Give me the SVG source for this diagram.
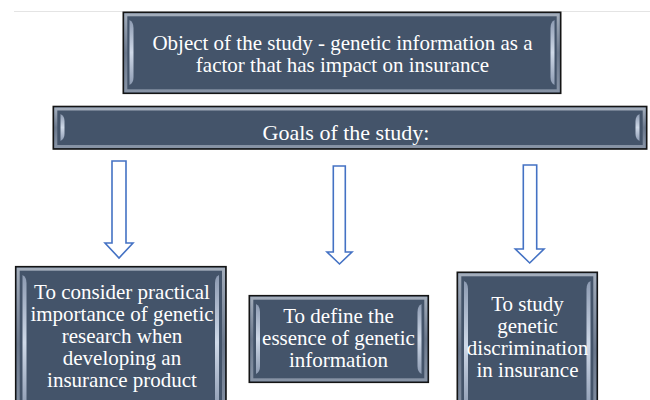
<svg xmlns="http://www.w3.org/2000/svg" width="650" height="400" viewBox="0 0 650 400">
  <style>
    .frame { fill: #44546A; stroke: #141414; stroke-width: 1.6; }
    .band { fill: none; stroke: url(#bandGrad); stroke-width: 3; }
    .hl { fill: url(#hlGrad); }
    .txt { font-family: "Liberation Serif", "Times New Roman", serif; font-size: 21px; fill: #ffffff; text-anchor: middle; }
    .arrow { fill: #ffffff; stroke: #4472C4; stroke-width: 1.6; stroke-linejoin: miter; }
    .rule { stroke: #e4e4e4; stroke-width: 1; }
  </style>
  <defs>
    <linearGradient id="bandGrad" x1="0" y1="0" x2="0" y2="1">
      <stop offset="0" stop-color="#a3adbb"/>
      <stop offset="0.5" stop-color="#6b788c"/>
      <stop offset="1" stop-color="#8793a5"/>
    </linearGradient>
    <linearGradient id="hlGrad" x1="0" y1="0" x2="0" y2="1">
      <stop offset="0" stop-color="#8d9bb2"/>
      <stop offset="0.5" stop-color="#cfd9e8"/>
      <stop offset="1" stop-color="#8d9bb2"/>
    </linearGradient>
  </defs>
  <rect width="650" height="400" fill="#ffffff"/>
  <line class="rule" x1="14" y1="11.5" x2="650" y2="11.5"/>

  <g id="connectors">
    <polygon id="arrow-left" class="arrow" points="112,161 126,161 126,243 133,243 119,258 105,243 112,243"/>
    <polygon id="arrow-middle" class="arrow" points="333.3,166 345.3,166 345.3,252 352,252 339.5,264 327,252 333.3,252"/>
    <polygon id="arrow-right" class="arrow" points="523.3,165 536.7,165 536.7,249 544,249 529.7,263 515.3,249 523.3,249"/>
  </g>

  <g id="object">
    <rect class="frame" x="123.3" y="12.3" width="437.4" height="81"/>
    <rect class="band" x="125.8" y="14.8" width="432.4" height="76"/>
    <path class="hl" d="M129.5,20 Q133.5,22 133.5,28 L133.5,77 Q133.5,83 129.5,85 Z"/>
    <path class="hl" d="M554.5,20 Q550.5,22 550.5,28 L550.5,77 Q550.5,83 554.5,85 Z"/>
    <text class="txt" x="342.5" y="50">Object of the study - genetic information as a</text>
    <text class="txt" x="342.5" y="72">factor that has impact on insurance</text>
  </g>

  <g id="goals">
    <rect class="frame" x="53.3" y="106.5" width="593.4" height="42.5"/>
    <rect class="band" x="55.8" y="109" width="588.4" height="37.5"/>
    <path class="hl" d="M60.5,114 Q64.5,116 64.5,121 L64.5,134 Q64.5,139 60.5,141 Z"/>
    <path class="hl" d="M639.5,114 Q635.5,116 635.5,121 L635.5,134 Q635.5,139 639.5,141 Z"/>
    <text class="txt" x="346" y="139.5" style="font-size:22px">Goals of the study:</text>
  </g>

  <g id="goal-practical">
    <rect class="frame" x="15.7" y="266.7" width="210.3" height="150"/>
    <rect class="band" x="18.2" y="269.2" width="205.3" height="150"/>
    <path class="hl" d="M22.5,275 Q26.5,277 26.5,283 L26.5,410 L22.5,410 Z"/>
    <path class="hl" d="M219,275 Q215,277 215,283 L215,410 L219,410 Z"/>
    <text class="txt" x="122" y="299">To consider practical</text>
    <text class="txt" x="122" y="321">importance of genetic</text>
    <text class="txt" x="122" y="343">research when</text>
    <text class="txt" x="122" y="365">developing an</text>
    <text class="txt" x="122" y="387">insurance product</text>
  </g>

  <g id="goal-essence">
    <rect class="frame" x="249.3" y="295.7" width="179" height="86.6"/>
    <rect class="band" x="251.8" y="298.2" width="174" height="81.6"/>
    <path class="hl" d="M256,304 Q260,306 260,312 L260,366 Q260,372 256,374 Z"/>
    <path class="hl" d="M421.5,304 Q417.5,306 417.5,312 L417.5,366 Q417.5,372 421.5,374 Z"/>
    <text class="txt" x="338.5" y="323">To define the</text>
    <text class="txt" x="338.5" y="345">essence of genetic</text>
    <text class="txt" x="338.5" y="367">information</text>
  </g>

  <g id="goal-discrimination">
    <rect class="frame" x="457.3" y="272.3" width="140" height="150"/>
    <rect class="band" x="459.8" y="274.8" width="135" height="150"/>
    <path class="hl" d="M464,281 Q468,283 468,289 L468,410 L464,410 Z"/>
    <path class="hl" d="M590.5,281 Q586.5,283 586.5,289 L586.5,410 L590.5,410 Z"/>
    <text class="txt" x="527.5" y="311">To study</text>
    <text class="txt" x="527.5" y="333">genetic</text>
    <text class="txt" x="527.5" y="355">discrimination</text>
    <text class="txt" x="527.5" y="377">in insurance</text>
  </g>
</svg>
